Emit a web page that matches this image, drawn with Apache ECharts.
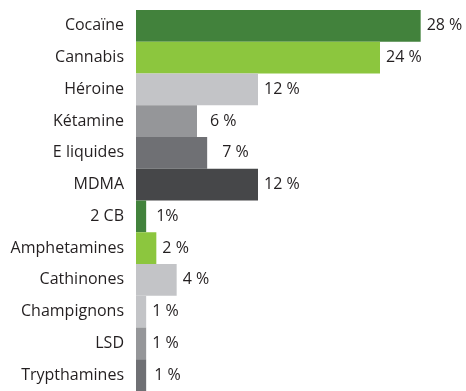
<!DOCTYPE html>
<html>
<head>
<meta charset="utf-8">
<script src="https://cdn.jsdelivr.net/npm/echarts@6/dist/echarts.min.js"></script>
<style>
  html, body { margin: 0; padding: 0; background: #ffffff; }
  #chart { width: 466px; height: 391px; }
</style>
</head>
<body>
<div id="chart"></div>
<script>
// Substances, top to bottom
const categories = ['Cocaïne', 'Cannabis', 'Héroine', 'Kétamine', 'E liquides', 'MDMA',
  '2 CB', 'Amphetamines', 'Cathinones', 'Champignons', 'LSD', 'Trypthamines'];
// Share in percent
const values = [28, 24, 12, 6, 7, 12, 1, 2, 4, 1, 1, 1];

// Bar colours, one per substance
const barColors = ['#42823c', '#8cc63e', '#c3c4c7', '#959699', '#6f7074', '#464749',
  '#42823c', '#8cc63e', '#c3c4c7', '#c3c4c7', '#959699', '#6f7074'];
// Extra gap before a few value labels
const labelGap = { 'Kétamine': 13, 'E liquides': 15, '2 CB': 10, 'Trypthamines': 8 };

const chart = echarts.init(document.getElementById('chart'), null, { renderer: 'canvas' });

const data = values.map((v, i) => ({
  value: v,
  itemStyle: { color: barColors[i] },
  label: { distance: labelGap[categories[i]] || 6 }
}));

chart.setOption({
  animation: false,
  textStyle: { fontFamily: 'Open Sans' },
  grid: { left: 136, top: 10, width: 305, height: 384, containLabel: false },
  xAxis: {
    type: 'value', min: 0, max: 30,
    show: false
  },
  yAxis: {
    type: 'category',
    data: categories,
    inverse: true,
    axisLine: { show: false },
    axisTick: { show: false },
    splitLine: { show: false },
    axisLabel: {
      color: '#231f20', fontSize: 16, margin: 12,
      fontFamily: 'Open Sans'
    }
  },
  series: [{
    type: 'bar',
    data: data,
    barWidth: '100%',
    barCategoryGap: 0,
    label: {
      show: true,
      position: 'right',
      color: '#231f20',
      fontSize: 16,
      fontFamily: 'Open Sans',
      formatter: p => p.name === '2 CB' ? p.value + '%' : p.value + ' %'
    }
  }]
});
</script>
</body>
</html>
